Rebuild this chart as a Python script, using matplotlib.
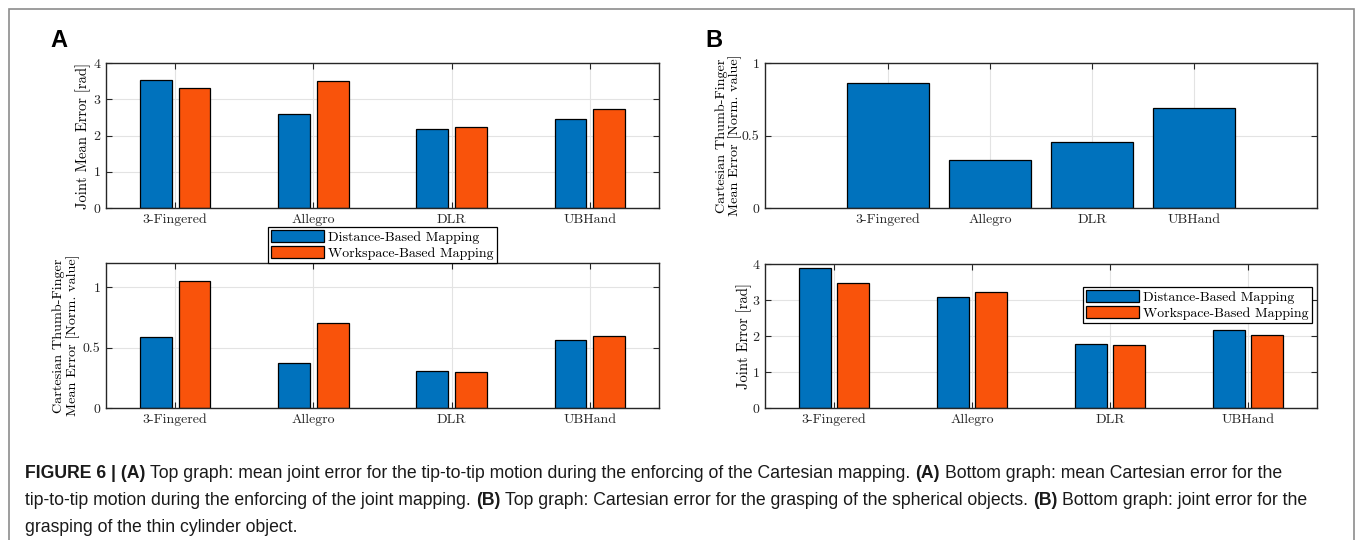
import numpy as np
import matplotlib
matplotlib.use('Agg')
import matplotlib.pyplot as plt
from matplotlib.patches import Rectangle

# data
hands = ['3-Fingered', 'Allegro', 'DLR', 'UBHand']
series_names = ['Distance-Based Mapping', 'Workspace-Based Mapping']

a_joint_dist = [3.54, 2.58, 2.17, 2.45]
a_joint_work = [3.31, 3.49, 2.23, 2.73]
a_cart_dist = [0.59, 0.37, 0.31, 0.565]
a_cart_work = [1.05, 0.70, 0.30, 0.595]
b_cart = [0.862, 0.33, 0.455, 0.69]
b_joint_dist = [3.90, 3.07, 1.79, 2.18]
b_joint_work = [3.48, 3.23, 1.75, 2.03]

BLUE = '#0072BD'
ORANGE = '#F9530B'
W, H = 1357, 540

plt.rcParams['font.family'] = ['cmr10', 'DejaVu Serif']
plt.rcParams['axes.formatter.use_mathtext'] = True
plt.rcParams['mathtext.fontset'] = 'cm'

fig = plt.figure(figsize=(W / 100, H / 100), dpi=100)


def px_axes(x0, y0, x1, y1):
    # pixel box (top-left origin) -> figure fraction axes
    return fig.add_axes([x0 / W, 1 - y1 / H, (x1 - x0) / W, (y1 - y0) / H])


def style(ax, yticks, ylabels, ylim, xlim):
    ax.set_xlim(xlim)
    ax.set_ylim(ylim)
    ax.set_xticks(np.arange(1, len(hands) + 1))
    ax.set_xticklabels(hands)
    ax.set_yticks(yticks)
    ax.set_yticklabels(ylabels)
    ax.tick_params(direction='in', length=4, width=0.8, top=True, right=True,
                   labelsize=10, colors='#262626', pad=4)
    ax.grid(True, color='#e3e3e3', lw=0.8)
    ax.set_axisbelow(True)
    for s in ax.spines.values():
        s.set_color('#262626')
        s.set_linewidth(1.0)


def grouped(ax, d1, d2):
    x = np.arange(1, len(hands) + 1)
    b1 = ax.bar(x - 0.14, d1, 0.23, color=BLUE, edgecolor='k', lw=0.9)
    b2 = ax.bar(x + 0.14, d2, 0.23, color=ORANGE, edgecolor='k', lw=0.9)
    return b1, b2


cart_label = 'Cartesian Thumb-Finger\nMean Error [Norm. value]'

# panel A top
ax1 = px_axes(106, 63, 659, 208)
h1, h2 = grouped(ax1, a_joint_dist, a_joint_work)
style(ax1, [0, 1, 2, 3, 4], ['0', '1', '2', '3', '4'], (0, 4), (0.5, 4.5))
ax1.set_ylabel('Joint Mean Error [rad]', fontsize=10.5, va='center')
ax1.yaxis.set_label_coords(-0.041, 0.5)

# panel A bottom
ax2 = px_axes(106, 263, 659, 408)
grouped(ax2, a_cart_dist, a_cart_work)
style(ax2, [0, 0.5, 1], ['0', '0.5', '1'], (0, 1.2), (0.5, 4.5))
ax2.set_ylabel(cart_label, fontsize=10.2, va='center', linespacing=1.1)
ax2.yaxis.set_label_coords(-0.072, 0.5)

# panel B top
ax3 = px_axes(765, 63, 1317, 208)
ax3.bar(np.arange(1, len(hands) + 1), b_cart, 0.8, color=BLUE, edgecolor='k', lw=0.9)
style(ax3, [0, 0.5, 1], ['0', '0.5', '1'], (0, 1), (-0.2, 5.2))
ax3.set_ylabel(cart_label, fontsize=10.2, va='center', linespacing=1.1)
ax3.yaxis.set_label_coords(-0.066, 0.5)

# panel B bottom
ax4 = px_axes(765, 264, 1317, 408)
grouped(ax4, b_joint_dist, b_joint_work)
style(ax4, [0, 1, 2, 3, 4], ['0', '1', '2', '3', '4'], (0, 4), (0.5, 4.5))
ax4.set_ylabel('Joint Error [rad]', fontsize=10.5, va='center')
ax4.yaxis.set_label_coords(-0.038, 0.5)

leg_kw = dict(loc='upper left', fontsize=10, handlelength=3.8, handleheight=0.9,
              labelspacing=0.15, borderpad=0.25, handletextpad=0.3, borderaxespad=0,
              fancybox=False, framealpha=1, edgecolor='k')
la = fig.legend([h1, h2], series_names, bbox_to_anchor=(268 / W, 1 - 227 / H), **leg_kw)
la.get_frame().set_linewidth(0.9)
lb = fig.legend([h1, h2], series_names, bbox_to_anchor=(1083 / W, 1 - 287 / H), **leg_kw)
lb.get_frame().set_linewidth(0.9)

# panel letters
sans = ['Liberation Sans', 'DejaVu Sans']
fig.text(50 / W, 1 - 47 / H, 'A', fontsize=17, weight='bold', family=sans, va='baseline')
fig.text(705 / W, 1 - 47 / H, 'B', fontsize=17, weight='bold', family=sans, va='baseline')

# outer frame
fig.patches.append(Rectangle((8.5 / W, -0.1), (1354 - 8.5) / W, 1.1 - 8.5 / H,
                             transform=fig.transFigure, fill=False,
                             edgecolor='#8c8c8c', lw=1.2, clip_on=False))

# caption with bold pieces
caption = [
    [('FIGURE 6 | (A)', True),
     ('Top graph: mean joint error for the tip-to-tip motion during the enforcing of the Cartesian mapping.', False),
     ('(A)', True), ('Bottom graph: mean Cartesian error for the', False)],
    [('tip-to-tip motion during the enforcing of the joint mapping.', False), ('(B)', True),
     ('Top graph: Cartesian error for the grasping of the spherical objects.', False),
     ('(B)', True), ('Bottom graph: joint error for the', False)],
    [('grasping of the thin cylinder object.', False)],
]
cap_size = 12.7
renderer = fig.canvas.get_renderer()
sp = fig.text(0, 0, 'x x', fontsize=cap_size, family=sans)
nsp = fig.text(0, 0, 'xx', fontsize=cap_size, family=sans)
space = sp.get_window_extent(renderer).width - nsp.get_window_extent(renderer).width
sp.remove()
nsp.remove()
for i, line in enumerate(caption):
    x = 25
    y = 478 + i * 27
    for txt, bold in line:
        t = fig.text(x / W, 1 - y / H, txt, fontsize=cap_size, family=sans,
                     weight='bold' if bold else 'normal', va='baseline', color='#1a1a1a')
        x += t.get_window_extent(renderer).width + space

fig.savefig('out.png', dpi=100)
